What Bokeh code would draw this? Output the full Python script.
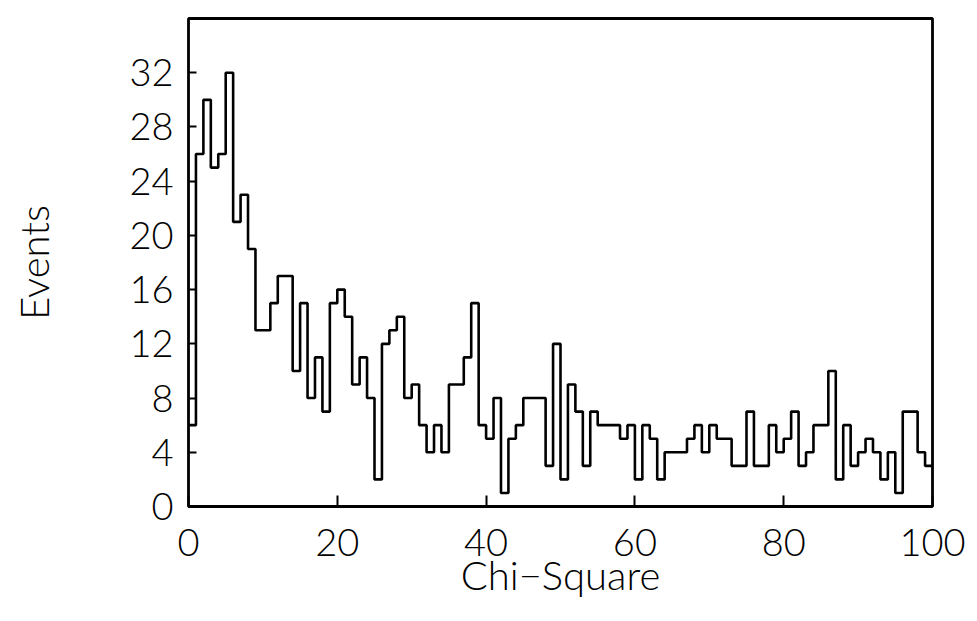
import numpy as np
from bokeh.plotting import figure
from bokeh.models import Range1d, FixedTicker
from bokeh.embed import file_html
from bokeh.resources import INLINE

# Chi-square histogram: 100 bins of width 1 from 0 to 100
bin_start = 0
bin_width = 1
events = [6, 26, 30, 25, 26, 32, 21, 23, 19, 13,
          13, 15, 17, 17, 10, 15, 8, 11, 7, 15,
          16, 14, 9, 11, 8, 2, 12, 13, 14, 8,
          9, 6, 4, 6, 4, 9, 9, 11, 15, 6,
          5, 8, 1, 5, 6, 8, 8, 8, 3, 12,
          2, 9, 7, 3, 7, 6, 6, 6, 5, 6,
          2, 6, 5, 2, 4, 4, 4, 5, 6, 4,
          6, 5, 5, 3, 3, 7, 3, 3, 6, 4,
          5, 7, 3, 4, 6, 6, 10, 2, 6, 3,
          4, 5, 4, 2, 4, 1, 7, 7, 4, 3]

x_ticks = [0, 20, 40, 60, 80, 100]
y_ticks = [0, 4, 8, 12, 16, 20, 24, 28, 32]

edges = bin_start + bin_width * np.arange(len(events) + 1)
levels = events + [events[-1]]

FONT = "Lato Light"

p = figure(width=977, height=621, output_backend="svg", toolbar_location=None,
           x_range=Range1d(0, 100), y_range=Range1d(0, 36),
           min_border_left=188, min_border_right=45,
           min_border_top=18, min_border_bottom=115)

p.background_fill_color = "white"
p.border_fill_color = "white"
p.outline_line_color = "black"
p.outline_line_width = 2.8
p.xgrid.visible = False
p.ygrid.visible = False

p.step(x=edges, y=levels, mode="after", line_color="black", line_width=2.6)

p.xaxis.ticker = FixedTicker(ticks=x_ticks)
p.yaxis.ticker = FixedTicker(ticks=y_ticks)
for ax in (p.xaxis, p.yaxis):
    ax.axis_line_color = None
    ax.major_tick_out = 0
    ax.minor_tick_in = 0
    ax.minor_tick_out = 0
    ax.major_tick_line_color = "black"
    ax.major_tick_line_width = 2
    ax.major_label_text_font = FONT
    ax.major_label_text_font_size = "38px"
    ax.major_label_text_color = "black"
    ax.axis_label_text_font = FONT
    ax.axis_label_text_font_size = "40px"
    ax.axis_label_text_font_style = "normal"
    ax.axis_label_text_color = "black"

p.xaxis.major_tick_in = 11
p.yaxis.major_tick_in = 8
p.xaxis.major_label_standoff = 22
p.yaxis.major_label_standoff = 15
p.xaxis.axis_label = "Chi\u2212Square"
p.yaxis.axis_label = "Events"
p.xaxis.axis_label_standoff = -8
p.yaxis.axis_label_standoff = 68

open("out.html", "w").write(file_html(p, INLINE))
